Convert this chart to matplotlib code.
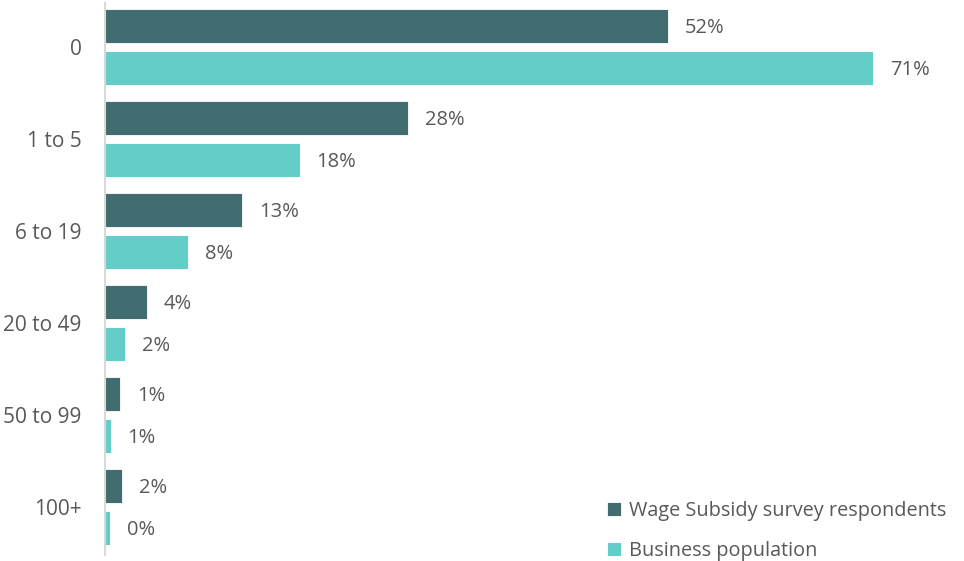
import matplotlib.pyplot as plt
import numpy as np

plt.rcParams['font.family'] = ['Open Sans', 'DejaVu Sans']

categories = ['0', '1 to 5', '6 to 19', '20 to 49', '50 to 99', '100+']
respondents = [52.0, 28.0, 12.7, 3.9, 1.4, 1.6]
population = [71.0, 18.0, 7.7, 1.85, 0.55, 0.45]
series_names = ['Wage Subsidy survey respondents', 'Business population']

dark = '#426d70'
light = '#65cdc7'
text_col = '#595959'

W, H = 964, 561
fig = plt.figure(figsize=(W / 100, H / 100), dpi=100)
left_px, right_px, top_px, bottom_px = 105, 940, 3, 555
ax = fig.add_axes([left_px / W, 1 - bottom_px / H,
                   (right_px - left_px) / W, (bottom_px - top_px) / H])

px_per_pct = 10.82
ax.set_xlim(0, (right_px - left_px) / px_per_pct)
ax.set_ylim(5.52, -0.48)

y = np.arange(len(categories))
off = 0.228
h = 0.37
b1 = ax.barh(y - off, respondents, height=h, color=dark, edgecolor='white', linewidth=0.6,
             label=series_names[0])
b2 = ax.barh(y + off, population, height=h, color=light, edgecolor='white', linewidth=0.6,
             label=series_names[1])

# value labels just to the right of each bar
for bars, vals in ((b1, respondents), (b2, population)):
    for bar, v in zip(bars, vals):
        ax.annotate(f'{v:.0f}%', (v, bar.get_y() + bar.get_height() / 2),
                    xytext=(12, -1.5), textcoords='offset points',
                    va='center', ha='left', fontsize=14.5, color=text_col)

ax.set_yticks(y)
ax.set_yticklabels(categories, fontsize=15, color=text_col)
ax.tick_params(axis='y', length=0, pad=17)
ax.set_xticks([])
for s in ('top', 'right', 'bottom'):
    ax.spines[s].set_visible(False)
ax.spines['left'].set_color('#d9d9d9')
ax.spines['left'].set_linewidth(1.5)

leg = fig.legend(handles=[b1, b2], loc='lower left', bbox_to_anchor=(589 / W, -0.032),
                 frameon=False, fontsize=14.3, handlelength=0.7, handleheight=0.7,
                 handletextpad=0.4, labelspacing=1.0)
for t in leg.get_texts():
    t.set_color(text_col)

fig.savefig('out.png', dpi=100)
